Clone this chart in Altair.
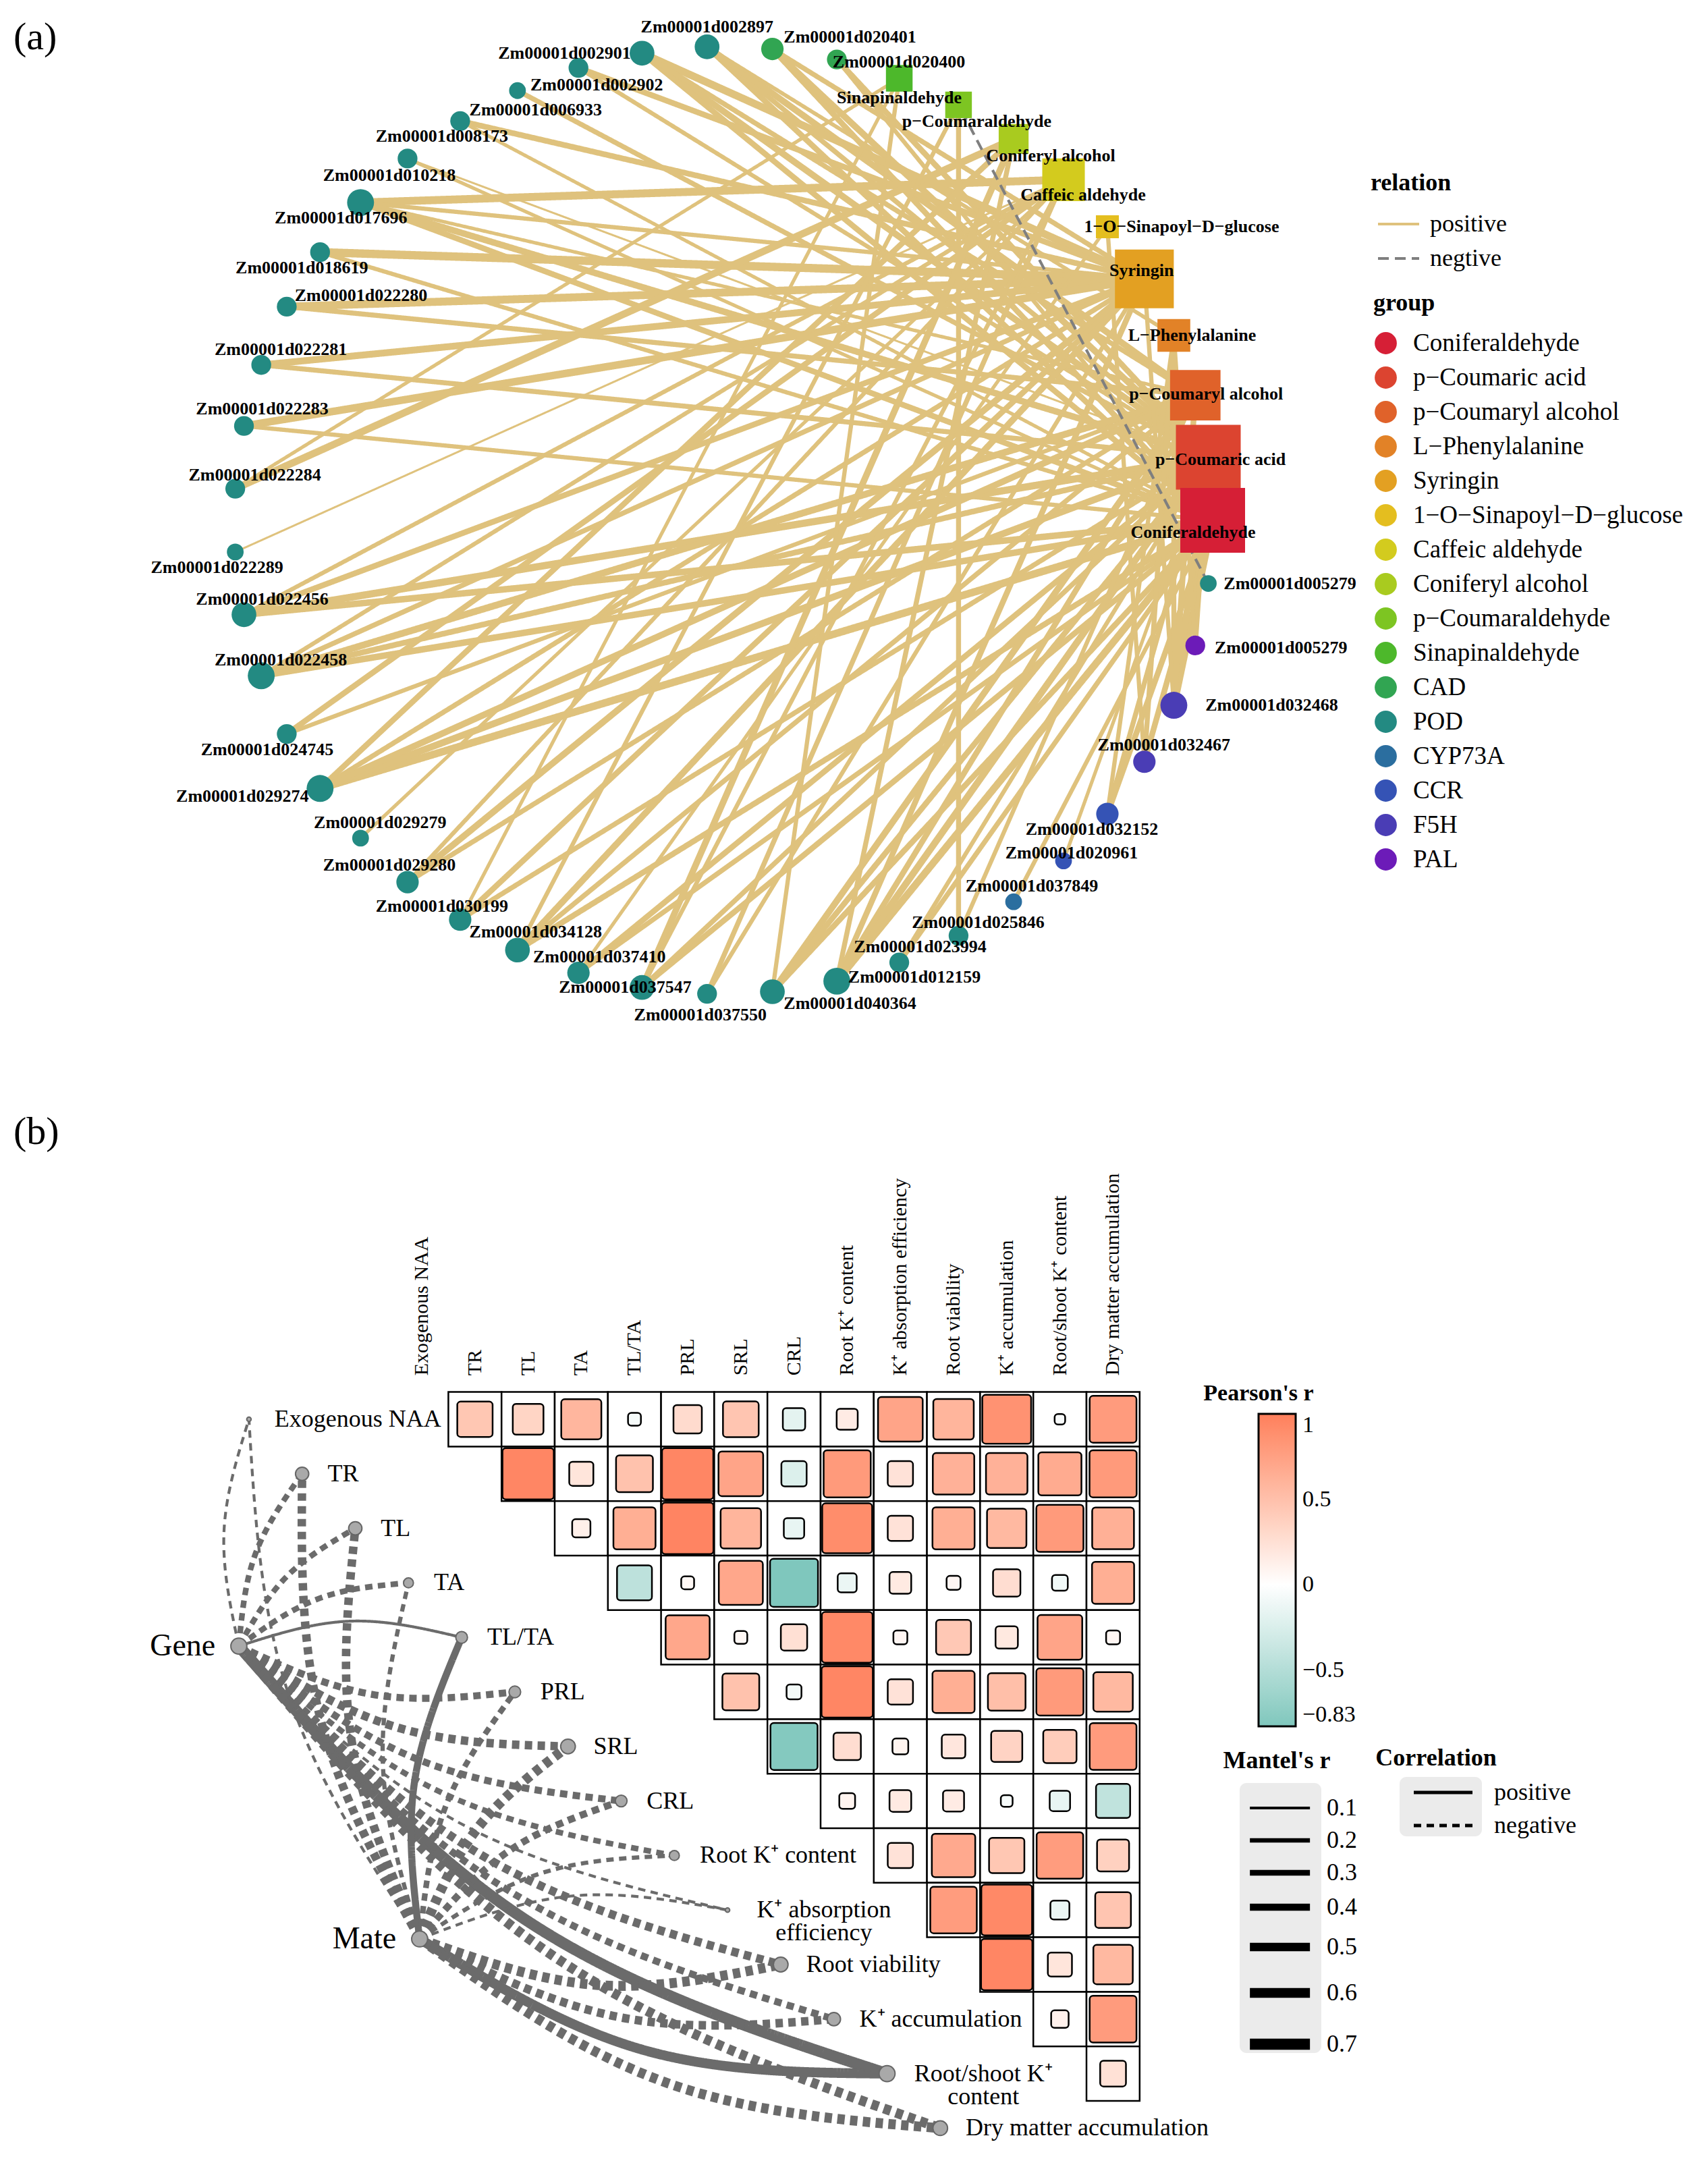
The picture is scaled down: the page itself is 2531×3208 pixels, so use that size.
import math
import numpy as np
import pandas as pd
import altair as alt

FONT = "Liberation Serif"
W = 2515          # drawing width (page minus margins)
HA = 1600         # height of panel (a)
HB = 1592         # height of panel (b)

# =====================================================================
# (a) gene – metabolite network
# =====================================================================
NODE_NAMES = [
    "Zm00001d002897", "Zm00001d020401", "Zm00001d020400",
    "Sinapinaldehyde", "p−Coumaraldehyde", "Coniferyl alcohol", "Caffeic aldehyde",
    "1−O−Sinapoyl−D−glucose", "Syringin", "L−Phenylalanine", "p−Coumaryl alcohol",
    "p−Coumaric acid", "Coniferaldehyde",
    "Zm00001d005279", "Zm00001d005279", "Zm00001d032468", "Zm00001d032467",
    "Zm00001d032152", "Zm00001d020961", "Zm00001d037849", "Zm00001d025846",
    "Zm00001d023994", "Zm00001d012159", "Zm00001d040364", "Zm00001d037550",
    "Zm00001d037547", "Zm00001d037410", "Zm00001d034128", "Zm00001d030199",
    "Zm00001d029280", "Zm00001d029279", "Zm00001d029274", "Zm00001d024745",
    "Zm00001d022458", "Zm00001d022456", "Zm00001d022289", "Zm00001d022284",
    "Zm00001d022283", "Zm00001d022281", "Zm00001d022280", "Zm00001d018619",
    "Zm00001d017696", "Zm00001d010218", "Zm00001d008173", "Zm00001d006933",
    "Zm00001d002902", "Zm00001d002901",
]
NODE_GROUPS = (
    ["POD", "CAD", "CAD",
     "Sinapinaldehyde", "p−Coumaraldehyde", "Coniferyl alcohol", "Caffeic aldehyde",
     "1−O−Sinapoyl−D−glucose", "Syringin", "L−Phenylalanine", "p−Coumaryl alcohol",
     "p−Coumaric acid", "Coniferaldehyde",
     "POD", "PAL", "F5H", "F5H", "CCR", "CCR", "CYP73A"]
    + ["POD"] * 27
)
GROUP_ORDER = [
    "Coniferaldehyde", "p−Coumaric acid", "p−Coumaryl alcohol", "L−Phenylalanine",
    "Syringin", "1−O−Sinapoyl−D−glucose", "Caffeic aldehyde", "Coniferyl alcohol",
    "p−Coumaraldehyde", "Sinapinaldehyde", "CAD", "POD", "CYP73A", "CCR", "F5H", "PAL",
]
GROUP_COLORS = [
    "#D61F36", "#DC4430", "#E0622A", "#E28227", "#E3A022", "#E4BE1F", "#D3CB1E",
    "#A9CB1F", "#7DC522", "#4DB82B", "#31A552", "#238A82", "#2B6E9F", "#3553B5",
    "#4A3DB5", "#6C1BB8",
]
MET = {
    "CA": "Coniferaldehyde", "PCA": "p−Coumaric acid", "PCAL": "p−Coumaryl alcohol",
    "LP": "L−Phenylalanine", "SY": "Syringin", "SG": "1−O−Sinapoyl−D−glucose",
    "CFA": "Caffeic aldehyde", "COA": "Coniferyl alcohol", "PCD": "p−Coumaraldehyde",
    "SIN": "Sinapinaldehyde",
}
# (gene, gene group, metabolite, correlation r)
EDGES = [
    ("Zm00001d002897", "POD", "CA", 0.90), ("Zm00001d002897", "POD", "PCA", 0.88),
    ("Zm00001d002897", "POD", "PCAL", 0.92), ("Zm00001d002897", "POD", "LP", 0.85),
    ("Zm00001d020401", "CAD", "CA", 0.90), ("Zm00001d020401", "CAD", "PCA", 0.92),
    ("Zm00001d020401", "CAD", "SY", 0.88),
    ("Zm00001d020400", "CAD", "PCA", 0.90), ("Zm00001d020400", "CAD", "CA", 0.86),
    ("Zm00001d002901", "POD", "SY", 0.95), ("Zm00001d002901", "POD", "PCA", 0.92),
    ("Zm00001d002901", "POD", "CA", 0.90), ("Zm00001d002901", "POD", "PCAL", 0.88),
    ("Zm00001d002902", "POD", "SY", 0.90), ("Zm00001d002902", "POD", "PCA", 0.86),
    ("Zm00001d006933", "POD", "PCA", 0.88),
    ("Zm00001d008173", "POD", "SY", 0.90), ("Zm00001d008173", "POD", "CA", 0.84),
    ("Zm00001d010218", "POD", "PCA", 0.80), ("Zm00001d010218", "POD", "CA", 0.84),
    ("Zm00001d017696", "POD", "CFA", 0.96), ("Zm00001d017696", "POD", "PCA", 0.92),
    ("Zm00001d017696", "POD", "CA", 0.90), ("Zm00001d017696", "POD", "SY", 0.86),
    ("Zm00001d017696", "POD", "PCAL", 0.84),
    ("Zm00001d018619", "POD", "SY", 0.97), ("Zm00001d018619", "POD", "CA", 0.86),
    ("Zm00001d022280", "POD", "SY", 0.96), ("Zm00001d022280", "POD", "PCAL", 0.88),
    ("Zm00001d022281", "POD", "SY", 0.93), ("Zm00001d022281", "POD", "PCA", 0.88),
    ("Zm00001d022283", "POD", "SY", 0.95), ("Zm00001d022283", "POD", "CA", 0.86),
    ("Zm00001d022284", "POD", "COA", 0.94), ("Zm00001d022284", "POD", "SIN", 0.84),
    ("Zm00001d022289", "POD", "CFA", 0.80),
    ("Zm00001d022456", "POD", "PCA", 0.94), ("Zm00001d022456", "POD", "CA", 0.92),
    ("Zm00001d022456", "POD", "SY", 0.90), ("Zm00001d022456", "POD", "CFA", 0.86),
    ("Zm00001d022458", "POD", "PCAL", 0.93), ("Zm00001d022458", "POD", "PCA", 0.90),
    ("Zm00001d022458", "POD", "CA", 0.92), ("Zm00001d022458", "POD", "SY", 0.88),
    ("Zm00001d022458", "POD", "CFA", 0.86),
    ("Zm00001d024745", "POD", "CFA", 0.90), ("Zm00001d024745", "POD", "PCAL", 0.86),
    ("Zm00001d029274", "POD", "CA", 0.95), ("Zm00001d029274", "POD", "PCA", 0.93),
    ("Zm00001d029274", "POD", "PCAL", 0.92), ("Zm00001d029274", "POD", "SY", 0.88),
    ("Zm00001d029274", "POD", "COA", 0.90),
    ("Zm00001d029279", "POD", "CFA", 0.84),
    ("Zm00001d029280", "POD", "SY", 0.92), ("Zm00001d029280", "POD", "PCAL", 0.88),
    ("Zm00001d029280", "POD", "CFA", 0.86),
    ("Zm00001d030199", "POD", "SY", 0.90), ("Zm00001d030199", "POD", "PCA", 0.88),
    ("Zm00001d030199", "POD", "SIN", 0.84),
    ("Zm00001d034128", "POD", "SY", 0.92), ("Zm00001d034128", "POD", "CA", 0.90),
    ("Zm00001d034128", "POD", "PCD", 0.86), ("Zm00001d034128", "POD", "PCAL", 0.88),
    ("Zm00001d037410", "POD", "PCA", 0.90), ("Zm00001d037410", "POD", "CA", 0.88),
    ("Zm00001d037410", "POD", "SG", 0.84),
    ("Zm00001d037547", "POD", "COA", 0.92), ("Zm00001d037547", "POD", "CA", 0.90),
    ("Zm00001d037547", "POD", "PCA", 0.88), ("Zm00001d037547", "POD", "CFA", 0.86),
    ("Zm00001d037550", "POD", "CFA", 0.88), ("Zm00001d037550", "POD", "SY", 0.86),
    ("Zm00001d040364", "POD", "PCAL", 0.92), ("Zm00001d040364", "POD", "CA", 0.90),
    ("Zm00001d040364", "POD", "PCA", 0.90), ("Zm00001d040364", "POD", "SIN", 0.86),
    ("Zm00001d012159", "POD", "CA", 0.94), ("Zm00001d012159", "POD", "PCA", 0.93),
    ("Zm00001d012159", "POD", "SY", 0.90), ("Zm00001d012159", "POD", "COA", 0.88),
    ("Zm00001d012159", "POD", "PCAL", 0.90),
    ("Zm00001d023994", "POD", "CA", 0.88), ("Zm00001d023994", "POD", "PCA", 0.86),
    ("Zm00001d025846", "POD", "PCD", 0.88), ("Zm00001d025846", "POD", "PCAL", 0.86),
    ("Zm00001d037849", "CYP73A", "CA", 0.86),
    ("Zm00001d020961", "CCR", "PCA", 0.84),
    ("Zm00001d032152", "CCR", "CA", 0.90), ("Zm00001d032152", "CCR", "PCA", 0.88),
    ("Zm00001d032152", "CCR", "LP", 0.86),
    ("Zm00001d032467", "F5H", "CA", 0.90), ("Zm00001d032467", "F5H", "LP", 0.88),
    ("Zm00001d032467", "F5H", "SG", 0.86),
    ("Zm00001d032468", "F5H", "CA", 0.94), ("Zm00001d032468", "F5H", "PCA", 0.92),
    ("Zm00001d032468", "F5H", "PCAL", 0.90), ("Zm00001d032468", "F5H", "LP", 0.88),
    ("Zm00001d032468", "F5H", "SY", 0.86),
    ("Zm00001d005279", "PAL", "PCA", 0.88), ("Zm00001d005279", "PAL", "LP", 0.86),
    ("Zm00001d005279", "POD", "PCD", -0.82),
]
# style: label nudge (px) from each node, as placed in the original figure
LABEL_NUDGE = [
    (0, -29), (115, -18), (92, 4), (0, 29), (27, 25), (55, 25), (29, 23), (110, 0),
    (-4, -12), (27, 0), (16, -2), (18, 4), (-29, 18), (121, 0), (127, 4), (145, 0),
    (29, -25), (-23, 23), (12, -12), (27, -23), (29, -20), (31, -23), (115, -6),
    (115, 18), (-10, 31), (-25, 0), (31, -23), (27, -27), (-27, -20), (-27, -25),
    (29, -23), (-115, 12), (-29, 23), (29, -23), (27, -23), (-27, 23), (29, -20),
    (27, -25), (29, -23), (110, -16), (-27, 23), (-29, 23), (-27, 25), (-27, 23),
    (27, 29), (27, 25), (-115, 0),
]

# circular layout (centre / radii of the ring in px)
CX, CY, RX, RY = 1064, 763, 725, 702

nodes = pd.DataFrame({"name": NODE_NAMES, "group": NODE_GROUPS})
nodes["key"] = nodes["name"] + "|" + nodes["group"]
n = len(nodes)
step = 2 * math.pi / n
anchor = NODE_NAMES.index("Coniferaldehyde")
theta = np.array([(anchor - i) * step for i in range(n)])
nodes["x"] = np.cos(theta)
nodes["y"] = np.sin(theta)
metabolites = GROUP_ORDER[:10]
nodes["kind"] = np.where(nodes["group"].isin(metabolites), "square", "circle")
nodes["lx"] = nodes["x"] + np.array([d[0] for d in LABEL_NUDGE]) / RX
nodes["ly"] = nodes["y"] - np.array([d[1] for d in LABEL_NUDGE]) / RY

edges = pd.DataFrame(EDGES, columns=["gene", "ggroup", "met", "r"])
edges["src"] = edges["gene"] + "|" + edges["ggroup"]
edges["metname"] = edges["met"].map(MET)
edges["dst"] = edges["metname"] + "|" + edges["metname"]
pos = nodes.set_index("key")[["x", "y"]]
edges["x"] = pos.loc[edges["src"], "x"].values
edges["y"] = pos.loc[edges["src"], "y"].values
edges["x2"] = pos.loc[edges["dst"], "x"].values
edges["y2"] = pos.loc[edges["dst"], "y"].values
edges["relation"] = np.where(edges["r"] > 0, "positive", "negtive")
edges["w"] = edges["r"].abs()
edges = edges.sort_values("r", key=lambda s: s < 0, kind="stable")
deg = pd.concat([edges["src"], edges["dst"]]).value_counts()
nodes["deg"] = nodes["key"].map(deg).fillna(1)

XA = alt.Scale(domain=[-CX / RX, (W - CX) / RX], nice=False, zero=False)
YA = alt.Scale(domain=[(CY - HA) / RY, CY / RY], nice=False, zero=False)

rel_dom = ["positive", "negtive"]
rel_leg = alt.Legend(
    title="relation", orient="none", legendX=2023, legendY=246, padding=0,
    symbolType="M-1.4,0H10.8", symbolSize=100, symbolStrokeWidth=4,
    titleFont=FONT, titleFontSize=36, titleFontWeight="bold",
    labelFont=FONT, labelFontSize=36, titlePadding=24, rowPadding=15, labelOffset=52,
)
edge_layer = alt.Chart(edges).mark_rule(strokeCap="butt").encode(
    x=alt.X("x:Q", scale=XA, axis=None),
    y=alt.Y("y:Q", scale=YA, axis=None),
    x2="x2:Q", y2="y2:Q",
    stroke=alt.Stroke("relation:N", scale=alt.Scale(domain=rel_dom, range=["#DFC27D", "#7F7F7F"]), legend=rel_leg),
    strokeDash=alt.StrokeDash("relation:N", scale=alt.Scale(domain=rel_dom, range=[[1, 0], [16, 9]]), legend=rel_leg),
    strokeWidth=alt.StrokeWidth("w:Q", scale=alt.Scale(domain=[0.8, 1.0], range=[3, 14]), legend=None),
)

FILL_A = alt.Scale(domain=GROUP_ORDER, range=GROUP_COLORS)
grp_leg = alt.Legend(
    title="group", orient="none", legendX=2027, legendY=424, padding=0,
    symbolType="circle", symbolSize=1075, symbolStrokeWidth=0,
    titleFont=FONT, titleFontSize=36, titleFontWeight="bold",
    labelFont=FONT, labelFontSize=37, titlePadding=22, rowPadding=13,
    labelOffset=22, labelLimit=600, symbolLimit=0,
)
circ_layer = alt.Chart(nodes[nodes["kind"] == "circle"]).mark_circle(opacity=1).encode(
    x=alt.X("x:Q", scale=XA, axis=None),
    y=alt.Y("y:Q", scale=YA, axis=None),
    fill=alt.Fill("group:N", scale=FILL_A, legend=grp_leg),
    size=alt.Size("deg:Q", scale=alt.Scale(domain=[1, 5], range=[616, 1590]), legend=None),
)
sq_layer = alt.Chart(nodes[nodes["kind"] == "square"]).mark_square(opacity=1).encode(
    x=alt.X("x:Q", scale=XA, axis=None),
    y=alt.Y("y:Q", scale=YA, axis=None),
    fill=alt.Fill("group:N", scale=FILL_A, legend=grp_leg),
    size=alt.Size("deg:Q", scale=alt.Scale(domain=[2, 22], range=[1156, 9216]), legend=None),
)
lab_layer = alt.Chart(nodes).mark_text(
    font=FONT, fontSize=26, fontWeight="bold", color="black", align="center", baseline="middle"
).encode(
    x=alt.X("lx:Q", scale=XA, axis=None),
    y=alt.Y("ly:Q", scale=YA, axis=None),
    text="name:N",
)
tag_a = alt.Chart(pd.DataFrame({"t": ["(a)"]})).mark_text(
    font=FONT, fontSize=58, align="left", baseline="middle", color="black"
).encode(x=alt.value(12), y=alt.value(48), text="t:N")

chart_a = alt.layer(edge_layer, circ_layer, sq_layer, lab_layer, tag_a).resolve_scale(
    size="independent"
).properties(width=W, height=HA)

# =====================================================================
# (b) Pearson correlation heatmap + Mantel links
# =====================================================================
VARS = [
    "Exogenous NAA", "TR", "TL", "TA", "TL/TA", "PRL", "SRL", "CRL",
    "Root K⁺ content", "K⁺ absorption efficiency", "Root viability",
    "K⁺ accumulation", "Root/shoot K⁺ content", "Dry matter accumulation",
]
VAR_LABELS = [
    "Exogenous NAA", "TR", "TL", "TA", "TL/TA", "PRL", "SRL", "CRL",
    "Root K⁺ content", "K⁺ absorption\nefficiency", "Root viability",
    "K⁺ accumulation", "Root/shoot K⁺\ncontent", "Dry matter accumulation",
]
# upper triangle of Pearson's r, row i holds columns i+1 ... 13
PEARSON_R = [
    [0.45, 0.34, 0.58, -0.06, 0.29, 0.46, -0.18, 0.16, 0.72, 0.59, 0.86, -0.04, 0.79],
    [0.95, 0.21, 0.49, 0.95, 0.72, -0.23, 0.80, 0.23, 0.62, 0.62, 0.67, 0.80],
    [0.12, 0.64, 0.96, 0.59, -0.15, 0.90, 0.23, 0.64, 0.56, 0.80, 0.63],
    [-0.44, 0.06, 0.70, -0.83, -0.13, 0.17, 0.07, 0.27, -0.09, 0.64],
    [0.70, 0.06, 0.25, 0.93, 0.07, 0.44, 0.18, 0.72, 0.07],
    [0.49, -0.08, 0.95, 0.23, 0.64, 0.51, 0.80, 0.56],
    [-0.80, 0.27, 0.09, 0.20, 0.35, 0.40, 0.79],
    [0.09, 0.17, 0.16, -0.05, -0.15, -0.42],
    [0.23, 0.68, 0.45, 0.78, 0.37],
    [0.78, 0.93, -0.13, 0.46],
    [0.95, 0.21, 0.56],
    [0.11, 0.79],
    [0.24],
]
ENV_NAMES = ["Gene", "Mate"]
MANTEL_R = {
    "Gene": [0.1, 0.3, 0.3, 0.3, 0.1, 0.4, 0.5, 0.4, 0.3, 0.1, 0.5, 0.4, 0.7, 0.6],
    "Mate": [0.1, 0.5, 0.5, 0.2, 0.4, 0.3, 0.6, 0.4, 0.2, 0.1, 0.6, 0.5, 0.6, 0.6],
}
MANTEL_SIGN = {
    "Gene": ["negative"] * 4 + ["positive"] + ["negative"] * 7 + ["positive", "negative"],
    "Mate": ["negative"] * 4 + ["positive"] + ["negative"] * 7 + ["positive", "negative"],
}

# layout of panel (b), in cell units
CELL_W, CELL_H = 78.8, 80.8
X0, Y0 = 617, 495              # px of column 0 / row 0 centre inside panel (b)
VAR_SHIFT = 3.25               # mantel nodes sit left of the diagonal
ENV_POS = {"Gene": (-3.44, 4.16), "Mate": (-0.04, 9.53)}

XB = alt.Scale(domain=[-X0 / CELL_W, (W - X0) / CELL_W], nice=False, zero=False)
YB = alt.Scale(domain=[-Y0 / CELL_H, (HB - Y0) / CELL_H], nice=False, zero=False, reverse=True)

heat_rows = []
for i, row in enumerate(PEARSON_R):
    for k, r in enumerate(row):
        heat_rows.append({"row": i, "col": i + 1 + k, "r": r})
heat = pd.DataFrame(heat_rows)

cells = alt.Chart(heat).transform_calculate(
    x0="datum.col - 0.5", x1="datum.col + 0.5", y0="datum.row - 0.5", y1="datum.row + 0.5"
).mark_rect(fill="white", stroke="black", strokeWidth=2.5).encode(
    x=alt.X("x0:Q", scale=XB, axis=None), x2="x1:Q",
    y=alt.Y("y0:Q", scale=YB, axis=None), y2="y1:Q",
)

pear_leg = alt.Legend(
    title="Pearson's r", orient="none", legendX=1775, legendY=440, padding=0,
    direction="vertical", gradientLength=463, gradientThickness=55,
    gradientStrokeColor="black", gradientStrokeWidth=3,
    values=[1, 0.5, 0, -0.5, -0.83],
    labelExpr="replace(toString(datum.value), '-', '−')",
    titleFont=FONT, titleFontSize=34, titleFontWeight="bold",
    titleAnchor="start", titleAlign="center", titlePadding=13,
    labelFont=FONT, labelFontSize=34, labelOffset=10,
)
squares = alt.Chart(heat).transform_calculate(
    h="0.5 * sqrt(abs(datum.r)) * 78",
    sx0=f"datum.col - datum.h / {CELL_W}", sx1=f"datum.col + datum.h / {CELL_W}",
    sy0=f"datum.row - datum.h / {CELL_H}", sy1=f"datum.row + datum.h / {CELL_H}",
).mark_rect(cornerRadius=5, stroke="black", strokeWidth=2.5).encode(
    x=alt.X("sx0:Q", scale=XB, axis=None), x2="sx1:Q",
    y=alt.Y("sy0:Q", scale=YB, axis=None), y2="sy1:Q",
    fill=alt.Fill("r:Q", scale=alt.Scale(domain=[-0.83, 0, 1], range=["#7FC7BD", "#FFFFFF", "#FF7F5C"],
                                         interpolate="lab"),
                  legend=pear_leg),
)

var_df = pd.DataFrame({"name": VARS, "label": VAR_LABELS, "k": range(len(VARS))})
headers = alt.Chart(var_df).transform_calculate(hy="-0.8").mark_text(
    angle=270, align="left", baseline="middle", font=FONT, fontSize=30, color="black"
).encode(
    x=alt.X("k:Q", scale=XB, axis=None),
    y=alt.Y("hy:Q", scale=YB, axis=None),
    text="name:N",
)

# Mantel links as gently bowed curves (start, bowed middle, end)
link_rows = []
for e in ENV_NAMES:
    ex, ey = ENV_POS[e]
    for k, v in enumerate(VARS):
        tx, ty = k - VAR_SHIFT, float(k)
        dx, dy = tx - ex, ty - ey
        L = math.hypot(dx, dy)
        if dy < 0:
            nx, ny = dy / L, -dx / L
        else:
            nx, ny = -dy / L, dx / L
        mx, my = (ex + tx) / 2 + nx * 0.09 * L, (ey + ty) / 2 + ny * 0.09 * L
        base = {"link": f"{e}-{k}", "mr": MANTEL_R[e][k], "corr": MANTEL_SIGN[e][k]}
        for p, (px, py) in enumerate([(ex, ey), (mx, my), (tx, ty)]):
            link_rows.append(dict(base, pt=p, x=px, y=py))
links = pd.DataFrame(link_rows)

# light-grey key panels behind the two line legends (legend decoration)
key_box = lambda x0, x1, y0, y1: alt.Chart(pd.DataFrame({"k": [0]})).mark_rect(
    fill="#EBEBEB", cornerRadius=10
).encode(x=alt.value(x0), x2=alt.value(x1), y=alt.value(y0), y2=alt.value(y1))
mantel_box = key_box(1829, 1950, 1034, 1434)
corr_box = key_box(2066, 2188, 1025, 1113)

mantel_leg = alt.Legend(
    title="Mantel's r", orient="none", legendX=1805, legendY=984, padding=0,
    symbolType="M-11.57,0H6.23", symbolSize=100, symbolStrokeColor="black",
    values=[0.1, 0.2, 0.3, 0.4, 0.5, 0.6, 0.7], format=".1f",
    titleFont=FONT, titleFontSize=36, titleFontWeight="bold",
    titleAnchor="start", titleAlign="center",
    titlePadding=33, labelFont=FONT, labelFontSize=36, labelOffset=38, rowPadding=12,
)
corr_leg = alt.Legend(
    title="Correlation", orient="none", legendX=2030, legendY=980, padding=0,
    symbolType="M-10.2,0H7.2", symbolSize=100, symbolStrokeWidth=5, symbolStrokeColor="black",
    titleFont=FONT, titleFontSize=36, titleFontWeight="bold",
    titleAnchor="start", titleAlign="center",
    titlePadding=14, labelFont=FONT, labelFontSize=36, labelOffset=50, rowPadding=13,
)
link_layer = alt.Chart(links).mark_line(interpolate="natural", color="#6B6B6B", strokeCap="butt").encode(
    x=alt.X("x:Q", scale=XB, axis=None),
    y=alt.Y("y:Q", scale=YB, axis=None),
    detail="link:N",
    order="pt:Q",
    strokeWidth=alt.StrokeWidth("mr:Q", scale=alt.Scale(domain=[0.1, 0.7], range=[4.2, 16.7]), legend=mantel_leg),
    strokeDash=alt.StrokeDash("corr:N", scale=alt.Scale(domain=["positive", "negative"], range=[[1, 0], [11, 8]]),
                              legend=corr_leg),
)

var_df["x"] = var_df["k"] - VAR_SHIFT
var_df["y"] = var_df["k"].astype(float)
var_df["maxr"] = [max(MANTEL_R["Gene"][k], MANTEL_R["Mate"][k]) for k in range(len(VARS))]
var_df["multi"] = var_df["label"].str.contains("\n")
var_df["lx"] = var_df["x"] + 0.48
var_df["cx"] = var_df["x"] + 0.48 + 105 / CELL_W   # centre of a wrapped two-line label

var_pts = alt.Chart(var_df).mark_circle(opacity=1, fill="#A9A9A9", stroke="#666666", strokeWidth=2).encode(
    x=alt.X("x:Q", scale=XB, axis=None),
    y=alt.Y("y:Q", scale=YB, axis=None),
    size=alt.Size("maxr:Q", scale=alt.Scale(domain=[0.05, 0.75], range=[0, 603]), legend=None),
)
env_df = pd.DataFrame({"name": ENV_NAMES,
                       "x": [ENV_POS[e][0] for e in ENV_NAMES],
                       "y": [ENV_POS[e][1] for e in ENV_NAMES]})
env_df["lx"] = env_df["x"] - 0.44
env_pts = alt.Chart(env_df).mark_circle(opacity=1, fill="#A9A9A9", stroke="#666666", strokeWidth=2, size=560).encode(
    x=alt.X("x:Q", scale=XB, axis=None),
    y=alt.Y("y:Q", scale=YB, axis=None),
)
var_labels = alt.Chart(var_df[~var_df["multi"]]).mark_text(
    align="left", baseline="middle", font=FONT, fontSize=36, color="black"
).encode(
    x=alt.X("lx:Q", scale=XB, axis=None),
    y=alt.Y("y:Q", scale=YB, axis=None),
    text="label:N",
)
var_labels2 = alt.Chart(var_df[var_df["multi"]]).mark_text(
    align="center", baseline="middle", font=FONT, fontSize=36, color="black",
    lineBreak="\n", lineHeight=34,
).encode(
    x=alt.X("cx:Q", scale=XB, axis=None),
    y=alt.Y("y:Q", scale=YB, axis=None),
    text="label:N",
)
env_labels = alt.Chart(env_df).mark_text(
    align="right", baseline="middle", font=FONT, fontSize=46, color="black"
).encode(
    x=alt.X("lx:Q", scale=XB, axis=None),
    y=alt.Y("y:Q", scale=YB, axis=None),
    text="name:N",
)
tag_b = alt.Chart(pd.DataFrame({"t": ["(b)"]})).mark_text(
    font=FONT, fontSize=58, align="left", baseline="middle", color="black"
).encode(x=alt.value(12), y=alt.value(70), text="t:N")

chart_b = alt.layer(
    mantel_box, corr_box, cells, link_layer, squares, headers, var_pts, env_pts,
    var_labels, var_labels2, env_labels, tag_b
).properties(width=W, height=HB)

chart = alt.vconcat(chart_a, chart_b, spacing=0, padding=0, background="white").resolve_scale(
    x="independent", y="independent", fill="independent", stroke="independent",
    strokeDash="independent", strokeWidth="independent", size="independent",
).resolve_legend(
    fill="independent", stroke="independent", strokeDash="independent",
    strokeWidth="independent", size="independent",
).configure_view(stroke=None)

chart.save("out.html", embed_options={"renderer": "svg", "actions": False})
